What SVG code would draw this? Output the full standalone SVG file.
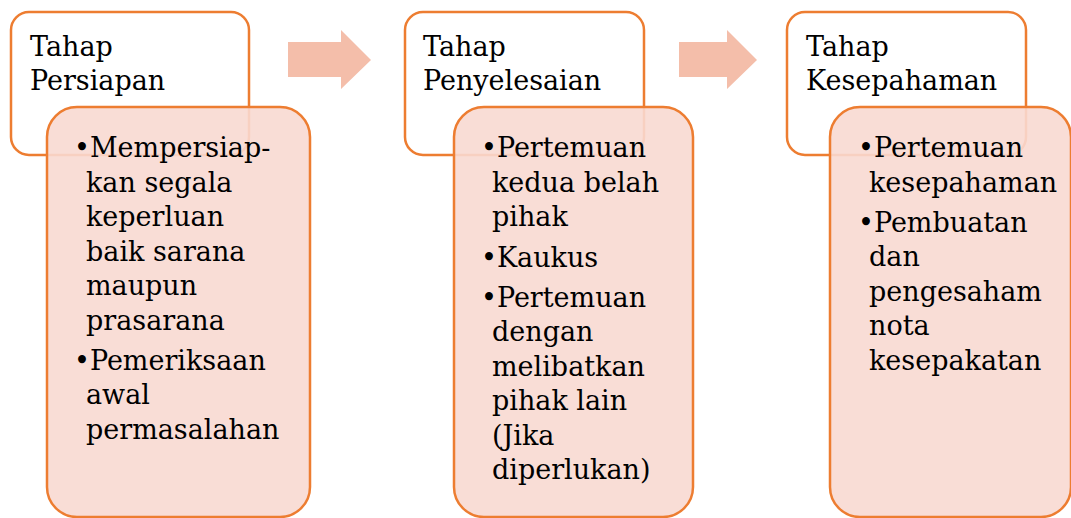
<svg xmlns="http://www.w3.org/2000/svg" width="1071" height="518" viewBox="0 0 1071 518">
<style>
.hdr{fill:#fff;stroke:#ED7D31;stroke-width:2.5}
.det{fill:#F8D9D1;fill-opacity:0.9;stroke:#ED7D31;stroke-width:2.5}
.arr{fill:#F4BEAA}
text{font-family:"DejaVu Serif","Liberation Serif",serif;font-size:27px;fill:#000}
</style>
<rect width="1071" height="518" fill="#fff"/>
<g id="connectors">
<polygon class="arr" points="288,42 341,42 341,30 371,60 341,89 341,77 288,77"/>
<polygon class="arr" points="679,42 727,42 727,30 757,60 727,89 727,77 679,77"/>
</g>
<g id="node1">
<rect class="hdr" x="11" y="12" width="238" height="143" rx="18"/>
<text x="30" y="56">Tahap</text>
<text x="30" y="90">Persiapan</text>
<rect class="det" x="47" y="107" width="263" height="410" rx="30"/>
<text x="74" y="157">•Mempersiap-</text>
<text x="86" y="191.5">kan segala</text>
<text x="86" y="226">keperluan</text>
<text x="86" y="260.5">baik sarana</text>
<text x="86" y="295">maupun</text>
<text x="86" y="329.5">prasarana</text>
<text x="74" y="369.5">•Pemeriksaan</text>
<text x="86" y="404">awal</text>
<text x="86" y="438.5">permasalahan</text>
</g>
<g id="node2">
<rect class="hdr" x="405" y="12" width="239" height="143" rx="18"/>
<text x="423" y="56">Tahap</text>
<text x="423" y="90">Penyelesaian</text>
<rect class="det" x="454" y="107" width="239" height="410" rx="30"/>
<text x="481" y="157">•Pertemuan</text>
<text x="492" y="191.5">kedua belah</text>
<text x="492" y="226">pihak</text>
<text x="481" y="266.5">•Kaukus</text>
<text x="481" y="306.5">•Pertemuan</text>
<text x="492" y="341">dengan</text>
<text x="492" y="375.5">melibatkan</text>
<text x="492" y="410">pihak lain</text>
<text x="492" y="444.5">(Jika</text>
<text x="492" y="479">diperlukan)</text>
</g>
<g id="node3">
<rect class="hdr" x="787" y="12" width="239" height="143" rx="18"/>
<text x="806" y="56">Tahap</text>
<text x="806" y="90">Kesepahaman</text>
<rect class="det" x="830" y="107" width="241" height="410" rx="30"/>
<text x="858" y="157">•Pertemuan</text>
<text x="869" y="191.5">kesepahaman</text>
<text x="858" y="231.5">•Pembuatan</text>
<text x="869" y="266">dan</text>
<text x="869" y="300.5">pengesaham</text>
<text x="869" y="335">nota</text>
<text x="869" y="369.5">kesepakatan</text>
</g>
</svg>
